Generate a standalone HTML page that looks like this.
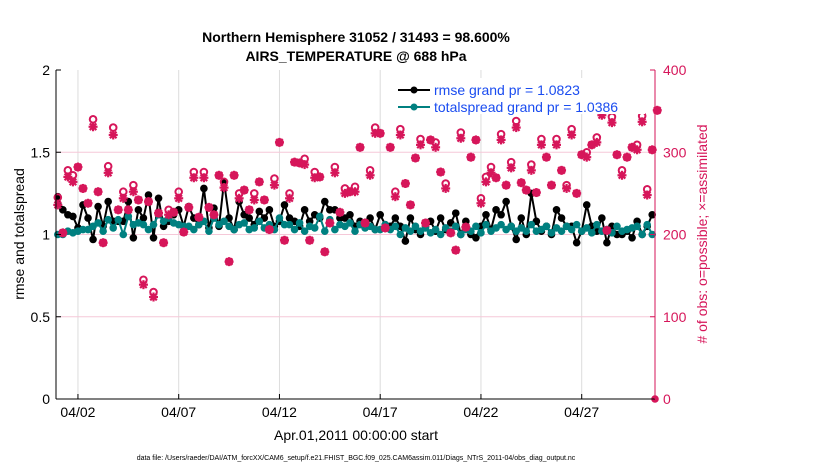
<!DOCTYPE html>
<html><head><meta charset="utf-8"><style>
body{margin:0;background:#fff;width:830px;height:470px;overflow:hidden;font-family:"Liberation Sans",sans-serif}
</style></head><body>
<svg id="chart" width="830" height="470" xmlns="http://www.w3.org/2000/svg" font-family="Liberation Sans, sans-serif">
<text x="356" y="42" text-anchor="middle" font-size="14" font-weight="bold">Northern Hemisphere 31052 / 31493 = 98.600%</text>
<text x="356" y="61" text-anchor="middle" font-size="14" font-weight="bold">AIRS_TEMPERATURE @ 688 hPa</text>
<g id="grid"></g><g id="marks"></g><g id="axes"></g>
<text transform="translate(24,234) rotate(-90)" text-anchor="middle" font-size="14">rmse and totalspread</text>
<text transform="translate(707,234) rotate(-90)" text-anchor="middle" font-size="14" fill="#d6165a"># of obs: o=possible; ×=assimilated</text>
<text x="356" y="440" text-anchor="middle" font-size="14">Apr.01,2011 00:00:00 start</text>
<text x="356" y="460" text-anchor="middle" font-size="7">data file: /Users/raeder/DAI/ATM_forcXX/CAM6_setup/f.e21.FHIST_BGC.f09_025.CAM6assim.011/Diags_NTrS_2011-04/obs_diag_output.nc</text>
<g id="legend">
<rect x="393" y="78" width="252" height="36" fill="#fff"/>
<line x1="398" y1="90" x2="430" y2="90" stroke="#000" stroke-width="2"/><circle cx="414" cy="90" r="3.5" fill="#000"/>
<text x="434" y="95" font-size="14" fill="#1a4cf0">rmse grand pr = 1.0823</text>
<line x1="398" y1="107" x2="430" y2="107" stroke="#008080" stroke-width="2"/><circle cx="414" cy="107" r="3.5" fill="#008080"/>
<text x="434" y="112" font-size="14" fill="#1a4cf0">totalspread grand pr = 1.0386</text>
</g>
</svg>
<script>
const rmse=[1.23,1.15,1.12,1.11,1.04,1.18,1.10,0.97,1.17,1.05,1.20,1.08,1.08,1.08,1.20,0.98,1.15,1.10,1.24,0.98,1.22,1.05,1.08,1.12,1.15,1.05,1.17,1.10,1.06,1.28,1.04,1.16,1.05,1.32,1.10,1.03,1.20,1.12,1.10,1.06,1.14,1.10,1.15,1.05,1.08,1.18,1.10,1.08,1.05,1.15,1.08,1.12,1.10,1.20,1.15,1.15,1.10,1.10,1.12,1.05,1.08,1.05,1.10,1.03,1.12,1.06,1.05,1.10,1.05,0.96,1.10,1.03,1.00,1.05,1.08,1.02,1.10,1.03,1.07,1.13,1.00,1.08,1.00,0.98,1.05,1.12,1.03,1.15,1.12,1.20,1.05,0.97,1.10,1.00,1.25,1.08,1.02,1.05,1.00,1.15,1.10,1.05,1.05,0.95,1.02,1.18,1.05,1.02,1.10,0.95,1.05,1.00,1.00,1.02,0.98,1.08,1.00,1.05,1.12];
const spread=[1.00,1.00,1.02,1.01,1.02,1.03,1.03,1.05,1.07,1.02,1.09,1.04,1.09,1.00,1.11,1.06,1.07,1.06,1.03,1.06,1.12,1.08,1.10,1.07,1.06,1.05,1.05,1.03,1.06,1.08,1.02,1.10,1.06,1.08,1.05,1.03,1.06,1.07,1.03,1.04,1.08,1.04,1.06,1.03,1.10,1.06,1.06,1.03,1.07,1.02,1.05,1.04,1.11,1.02,1.09,1.03,1.06,1.05,1.07,1.02,1.06,1.04,1.05,1.03,1.03,1.06,1.03,1.05,1.00,1.04,1.02,1.05,1.02,1.04,1.01,1.03,1.00,1.04,1.02,1.05,1.00,1.03,1.02,1.05,1.01,1.06,1.02,1.04,1.06,1.03,1.05,1.02,1.04,1.02,1.06,1.02,1.03,1.05,1.01,1.04,1.02,1.05,1.03,1.06,1.02,1.04,1.01,1.06,1.02,1.03,1.01,1.05,1.02,1.03,1.04,1.05,1.00,1.06,1.00];
const assim=[236,202,270,264,282,256,238,331,252,190,275,321,230,244,230,252,242,139,240,124,226,190,224,227,244,203,233,269,221,269,233,224,272,257,167,272,244,254,230,242,264,242,206,260,312,193,244,288,287,285,193,269,270,179,214,275,227,250,252,252,306,214,272,323,323,208,306,246,321,262,236,293,309,214,315,306,276,256,202,181,317,209,294,315,238,264,275,269,315,260,281,330,263,254,278,251,309,294,260,309,278,256,321,250,297,294,309,312,345,205,336,297,272,294,306,303,337,248,303,351];
const possible=[245,202,278,272,282,256,238,340,252,190,283,330,230,252,230,260,242,145,240,130,226,190,230,227,252,203,233,276,221,276,233,224,272,264,167,272,250,254,230,250,264,242,206,268,312,193,250,288,287,292,193,276,270,179,214,282,227,256,252,258,306,214,278,330,323,208,306,252,328,262,236,293,316,214,315,312,276,262,202,181,324,209,294,315,244,270,282,269,322,260,288,338,263,254,285,251,316,294,260,316,278,260,328,250,297,300,309,318,352,205,343,297,278,294,306,309,344,255,303,351];
const xTicks=["04/02","04/07","04/12","04/17","04/22","04/27"];
const xTickDays=[1,6,11,16,21,26];
const yTicks=[0,0.5,1,1.5,2];
const y2Ticks=[0,100,200,300,400];
const X0=56,X1=655,Y0=399,Y1=70,day0x=57.8,dayW=20.15;
const xs=d=>day0x+d*dayW, ys=v=>Y0-(v/2)*(Y0-Y1), ys2=v=>Y0-(v/400)*(Y0-Y1);
const NS="http://www.w3.org/2000/svg";
function mk(p,t,a){const e=document.createElementNS(NS,t);for(const k in a)e.setAttribute(k,a[k]);p.appendChild(e);return e;}
const grid=document.getElementById('grid'),marks=document.getElementById('marks'),axes=document.getElementById('axes');
mk(grid,'rect',{x:X0,y:Y1,width:X1-X0,height:Y0-Y1,fill:'#fff'});
xTickDays.forEach((d,i)=>{const g=mk(grid,'line',{x1:xs(d),x2:xs(d),y1:Y1,y2:Y0,stroke:'#dcdcdc','stroke-width':1});

mk(axes,'line',{x1:xs(d),x2:xs(d),y1:Y0,y2:Y0-5,stroke:'#000'});
const t=mk(axes,'text',{x:xs(d),y:Y0+18,'text-anchor':'middle','font-size':14});t.textContent=xTicks[i];
});
y2Ticks.forEach(v=>{if(v>0&&v<400){const g=mk(grid,'line',{x1:X0,x2:X1,y1:ys2(v),y2:ys2(v),stroke:'#f5c8d8','stroke-width':1});
}
mk(axes,'line',{x1:X1,x2:X1-5,y1:ys2(v),y2:ys2(v),stroke:'#d6165a'});
const t=mk(axes,'text',{x:X1+8,y:ys2(v)+5,'font-size':14,fill:'#d6165a'});t.textContent=v;
});
yTicks.forEach(v=>{mk(axes,'line',{x1:X0,x2:X0+5,y1:ys(v),y2:ys(v),stroke:'#000'});
const t=mk(axes,'text',{x:X0-6,y:ys(v)+5,'text-anchor':'end','font-size':14});t.textContent=v;
});
mk(axes,'line',{x1:X0,x2:X0,y1:Y1,y2:Y0,stroke:'#000'});
mk(axes,'line',{x1:X0,x2:X1,y1:Y0,y2:Y0,stroke:'#000'});
mk(axes,'line',{x1:X1,x2:X1,y1:Y1,y2:Y0,stroke:'#d6165a'});
const C='#d6165a';
function series(arr,col,name){const p=mk(marks,'polyline',{points:arr.map((v,i)=>xs(i/4)+','+ys(v)).join(' '),fill:'none',stroke:col,'stroke-width':2});

arr.forEach((v,i)=>{const c=mk(marks,'circle',{cx:xs(i/4),cy:ys(v),r:3.8,fill:col});
});}
series(rmse,'#000','rmse');
series(spread,'#008080','totalspread');
possible.forEach((v,i)=>{const x=xs(i/4),y=ys2(v);const c=mk(marks,'circle',{cx:x,cy:y,r:3.3,fill:'none',stroke:C,'stroke-width':2});
});
assim.forEach((v,i)=>{const x=xs(i/4),y=ys2(v);const g=mk(marks,'g',{stroke:C,'stroke-width':2.2});

mk(g,'line',{x1:x-4.5,x2:x+4.5,y1:y,y2:y});mk(g,'line',{x1:x,x2:x,y1:y-4.5,y2:y+4.5});
mk(g,'line',{x1:x-3.3,x2:x+3.3,y1:y-3.3,y2:y+3.3});mk(g,'line',{x1:x-3.3,x2:x+3.3,y1:y+3.3,y2:y-3.3});});
const last=mk(marks,'circle',{cx:X1,cy:ys2(0),r:3.8,fill:C});


marks.parentNode.appendChild(document.getElementById('legend'));
</script>
</body></html>
